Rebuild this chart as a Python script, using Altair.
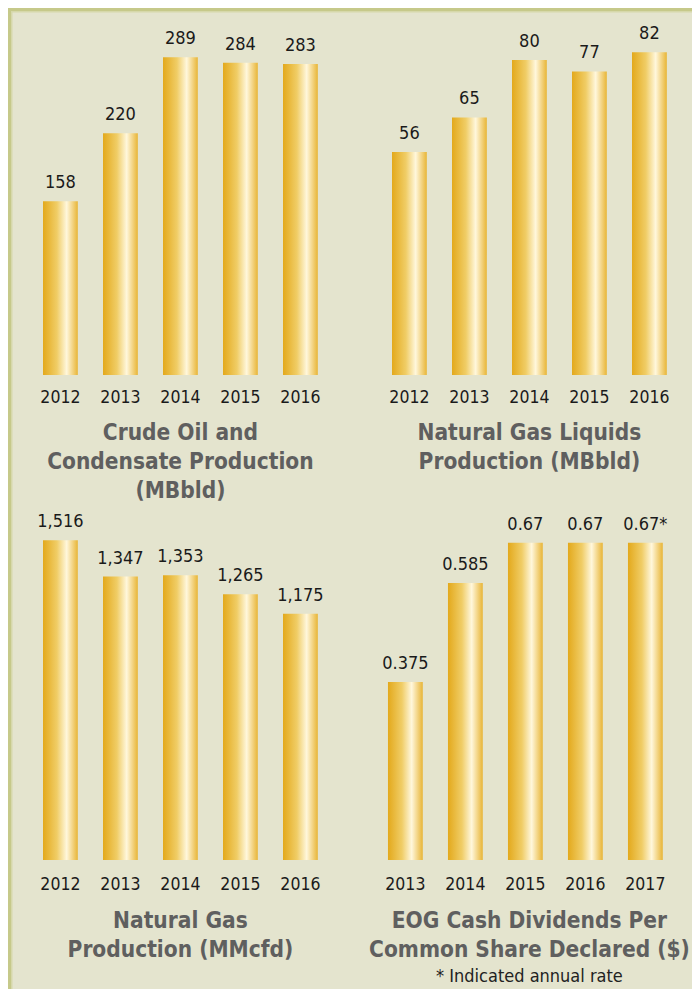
import altair as alt
import pandas as pd

# ---- data ----
years_a = ["2012", "2013", "2014", "2015", "2016"]
oil = [158, 220, 289, 284, 283]
oil_labels = ["158", "220", "289", "284", "283"]
ngl = [56, 65, 80, 77, 82]
ngl_labels = ["56", "65", "80", "77", "82"]
gas = [1516, 1347, 1353, 1265, 1175]
gas_labels = ["1,516", "1,347", "1,353", "1,265", "1,175"]
years_b = ["2013", "2014", "2015", "2016", "2017"]
div = [0.375, 0.585, 0.67, 0.67, 0.67]
div_labels = ["0.375", "0.585", "0.67", "0.67", "0.67*"]

titles = [
    ["Crude Oil and", "Condensate Production", "(MBbld)"],
    ["Natural Gas Liquids", "Production (MBbld)"],
    ["Natural Gas", "Production (MMcfd)"],
    ["EOG Cash Dividends Per", "Common Share Declared ($)"],
]
note = "* Indicated annual rate"

FONT = "DejaVu Sans Condensed, Liberation Sans Narrow, sans-serif"
BG = "#E4E4CE"
BORDER = "#C6C98A"
BORDER_IN = "#D6D8AA"

gold = alt.LinearGradient(
    gradient="linear",
    x1=0, x2=1, y1=0, y2=0,
    stops=[
        alt.GradientStop(offset=0.0, color="#E3A91C"),
        alt.GradientStop(offset=0.4, color="#F0CD66"),
        alt.GradientStop(offset=0.68, color="#FFF7DC"),
        alt.GradientStop(offset=1.0, color="#E8B536"),
    ],
)


def panel(years, values, labels, lo, hi, height, title, subtitle=None, align=0.5,
          label_pad=13, title_offset=16):
    df = pd.DataFrame({"year": years, "value": values, "label": labels})
    x = alt.X(
        "year:N",
        sort=years,
        scale=alt.Scale(paddingInner=0.42, paddingOuter=0.21, align=align),
        axis=alt.Axis(
            title=None, labelAngle=0, domain=False, ticks=False, tickSize=0,
            labelPadding=label_pad, labelFont=FONT, labelFontSize=17.5,
            labelColor="#1A1A1A", grid=False,
        ),
    )
    y = alt.Y("value:Q", scale=alt.Scale(domain=[lo, hi], zero=False, nice=False), axis=None)
    base = alt.Chart(df).encode(x=x)
    bars = base.mark_bar(color=gold).encode(y=y, y2=alt.datum(lo))
    text = base.mark_text(
        dy=-13, baseline="alphabetic", fontSize=18, font=FONT, color="#1A1A1A"
    ).encode(y=y, text="label:N")
    tp = dict(
        text=title, orient="bottom", anchor="middle", font=FONT, fontSize=22.5,
        fontWeight="bold", color="#5F5F5F", lineHeight=29, offset=title_offset,
    )
    if subtitle:
        tp.update(subtitle=subtitle, subtitleFont=FONT, subtitleFontSize=18,
                  subtitleColor="#222222", subtitlePadding=7)
    return alt.layer(bars, text).properties(width=300, height=height, title=alt.TitleParams(**tp))


# frame lines along the top and left edge (drawn from an empty helper cell)
one = pd.DataFrame({"k": [0]})
frame_top = alt.Chart(one).mark_rule(color=BORDER, strokeWidth=3, clip=False).encode(
    x=alt.value(-22.4), x2=alt.value(661.6), y=alt.value(-983.5)
)
frame_left = alt.Chart(one).mark_rule(color=BORDER, strokeWidth=3, clip=False).encode(
    x=alt.value(-20.9), y=alt.value(-985), y2=alt.value(-4)
)
frame_top_in = alt.Chart(one).mark_rule(color=BORDER_IN, strokeWidth=1.5, clip=False).encode(
    x=alt.value(-19.4), x2=alt.value(661.6), y=alt.value(-981.25)
)
frame_left_in = alt.Chart(one).mark_rule(color=BORDER_IN, strokeWidth=1.5, clip=False).encode(
    x=alt.value(-18.65), y=alt.value(-982), y2=alt.value(-4)
)
frame = alt.layer(frame_top, frame_left, frame_top_in, frame_left_in).properties(width=1, height=1)

p1 = panel(years_a, oil, oil_labels, 0, 323, 355, titles[0])
p2 = panel(years_a, ngl, ngl_labels, -2.1, 90.4, 355, titles[1])
p3 = panel(years_a, gas, gas_labels, 30.7, 1665.6, 352, titles[2], label_pad=15, title_offset=17)
p4 = panel(years_b, div, div_labels, -0.003, 0.744, 352, titles[3], note, align=0.34,
           label_pad=15, title_offset=17)

chart = (
    alt.concat(p1, p2, p3, p4, frame, columns=2, spacing={"row": 133, "column": 49}, bounds="flush")
    .properties(
        padding={"left": 22.4, "top": 12, "right": 661.6, "bottom": 969},
        autosize=alt.AutoSizeParams(type="none"),
    )
    .configure(background=BG)
    .configure_view(strokeWidth=0)
)

chart.save("out.html", embed_options={"renderer": "svg", "actions": False})
